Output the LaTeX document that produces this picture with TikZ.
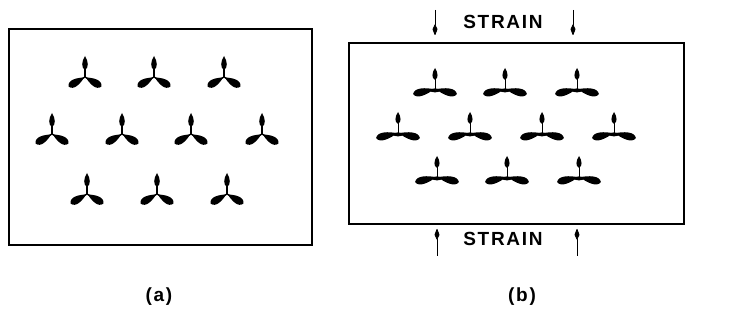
\documentclass[tikz,border=0pt]{standalone}
\usepackage{fontspec}
\newfontfamily\lblfont[LetterSpace=9]{Liberation Sans Bold}
\usetikzlibrary{arrows.meta}
% one tapered arm of a unit, thick at its outer end: #1 = direction, #2 = length
\newcommand\molarm[2]{%
  \fill[rotate=#1] (1,0) .. controls (0.38*#2,3.4) and (0.88*#2,6.4) .. (#2,0)
                        .. controls (0.88*#2,-6.4) and (0.38*#2,-3.4) .. (1,0) -- cycle;}
\begin{document}
\begin{tikzpicture}[x=1pt,y=1pt,
  frame/.style={line width=2.2pt},
  lbl/.style={font=\lblfont\fontsize{19}{19}\selectfont},
  strainarrow/.style={line width=0.9pt,-{Kite[length=12pt,width=5pt,inset=5.5pt,round]}},
  % three-armed unit, unstrained
  molA/.pic={
    \draw[line width=1.2pt] (0,0) -- (0,9);
    \fill (0,7) .. controls (4,9) and (3.4,16) .. (0,21)
                .. controls (-3.4,16) and (-4,9) .. (0,7) -- cycle;
    \draw[line width=1.4pt] (210:4) -- (0,0) -- (-30:4);
    \molarm{210}{19}
    \molarm{-30}{19}
  },
  % three-armed unit, flattened under strain
  molB/.pic={
    \draw[line width=0.6pt] (0,0) -- (0,10);
    \fill (0,9) .. controls (3.6,11) and (3.2,16) .. (0,21)
                .. controls (-3.2,16) and (-3.6,11) .. (0,9) -- cycle;
    \molarm{-13}{22.5}
    \molarm{193}{22.5}
    \fill (0,-1.4) ellipse [x radius=5, y radius=2];
  }
]
\useasboundingbox (0,0) rectangle (745,324);

% panel (a)
\draw[frame] (9,295) rectangle (312,79);
\foreach \x/\y [count=\i] in {85/247,154/247,224/247,
                              52/190,122/190,191/190,262/190,
                              87/130,157/130,227/130}
  \pic (a\i) at (\x,\y) {molA};
\node[lbl] (labA) at (159,27) {(a)};

% panel (b)
\draw[frame] (349,281) rectangle (684,100);
\foreach \x/\y [count=\i] in {435/235,505/235,577/235,
                              398/191,470/191,542/191,614/191,
                              437/147,507/147,579/147}
  \pic (b\i) at (\x,\y) {molB};
\node[lbl] (strTop) at (503,302) {STRAIN};
\node[lbl] (strBot) at (503,85) {STRAIN};
\node[lbl] (labB) at (522,27) {(b)};

% applied strain
\coordinate (tl0) at (435,314); \coordinate (tl1) at (435,289);
\coordinate (tr0) at (573,314); \coordinate (tr1) at (573,289);
\coordinate (bl0) at (437,68);  \coordinate (bl1) at (437,95);
\coordinate (br0) at (577,68);  \coordinate (br1) at (577,95);
\draw[strainarrow] (tl0) -- (tl1);
\draw[strainarrow] (tr0) -- (tr1);
\draw[strainarrow] (bl0) -- (bl1);
\draw[strainarrow] (br0) -- (br1);
\end{tikzpicture}
\end{document}
